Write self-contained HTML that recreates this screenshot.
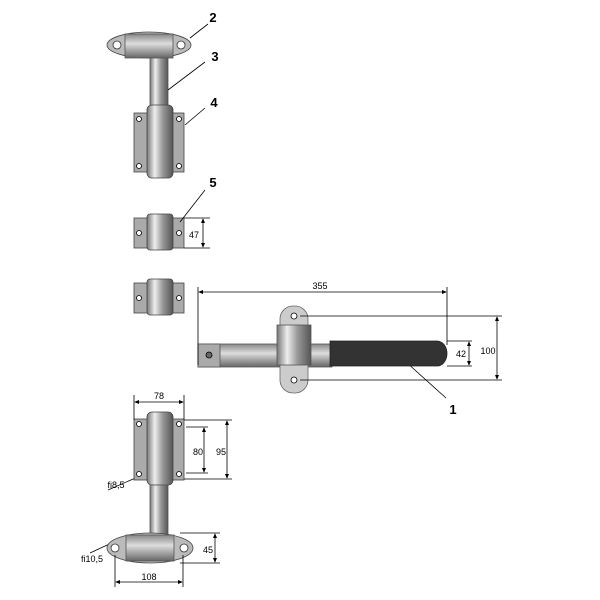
<!DOCTYPE html>
<html><head><meta charset="utf-8"><style>html,body{margin:0;padding:0;background:#fff}svg{display:block}</style></head><body>
<svg width="600" height="600" viewBox="0 0 600 600" xmlns="http://www.w3.org/2000/svg" font-family="Liberation Sans, sans-serif">
<defs>
<linearGradient id="m" x1="0" x2="1" y1="0" y2="0">
<stop offset="0" stop-color="#777"/><stop offset="0.3" stop-color="#eee"/><stop offset="0.6" stop-color="#999"/><stop offset="1" stop-color="#555"/></linearGradient>
<linearGradient id="mv" x1="0" x2="0" y1="0" y2="1">
<stop offset="0" stop-color="#888"/><stop offset="0.4" stop-color="#ddd"/><stop offset="1" stop-color="#666"/></linearGradient>
<marker id="a" markerWidth="6" markerHeight="6" refX="5" refY="3" orient="auto-start-reverse"><path d="M0,0.5 L6,3 L0,5.5z" fill="#000"/></marker>
</defs>
<g stroke="#000" stroke-width="0.8" fill="none">
<!-- top assembly -->
<ellipse cx="149" cy="45" rx="42" ry="13" fill="#bbb" stroke="#444"/>
<rect x="125" y="34" width="48" height="24" fill="url(#mv)" stroke="#555"/>
<circle cx="117" cy="45" r="4" fill="#fff" stroke="#333"/><circle cx="181" cy="45" r="4" fill="#fff" stroke="#333"/>
<rect x="150" y="58" width="18" height="50" fill="url(#m)" stroke="#555"/>
<rect x="134" y="113" width="50" height="59" fill="#aaa" stroke="#444"/>
<rect x="147" y="105" width="26" height="73" rx="5" fill="url(#m)" stroke="#444"/>
<circle cx="139" cy="119" r="2.5" fill="#fff"/><circle cx="179" cy="119" r="2.5" fill="#fff"/><circle cx="139" cy="166" r="2.5" fill="#fff"/><circle cx="179" cy="166" r="2.5" fill="#fff"/>
<!-- part 5 -->
<rect x="134" y="218" width="50" height="30" fill="#aaa" stroke="#444"/>
<rect x="147" y="214" width="26" height="36" rx="3" fill="url(#m)" stroke="#444"/>
<circle cx="139" cy="233" r="2.5" fill="#fff"/><circle cx="179" cy="233" r="2.5" fill="#fff"/>
<rect x="134" y="283" width="50" height="30" fill="#aaa" stroke="#444"/>
<rect x="147" y="279" width="26" height="36" rx="3" fill="url(#m)" stroke="#444"/>
<circle cx="139" cy="298" r="2.5" fill="#fff"/><circle cx="179" cy="298" r="2.5" fill="#fff"/>
<!-- leaders -->
<path d="M208,24 L190,38 M205,62 L168,90 M205,108 L185,125 M205,190 L180,222 M406,362 L446,398 M108,490 L140,476 M90,553 L118,540"/>
<!-- 47 -->
<path d="M184,218 H210 M184,248 H210"/>
<path d="M203,219 V247" marker-start="url(#a)" marker-end="url(#a)"/>
<!-- handle -->
<rect x="198" y="344" width="134" height="23" fill="url(#mv)" stroke="#555"/>
<rect x="198" y="344" width="22" height="23" fill="#aaa" stroke="#555"/>
<circle cx="209" cy="355" r="3" fill="#666"/>
<path d="M330,341 H437 A10,12.5 0 0 1 437,366 H330 Z" fill="#333" stroke="#222"/>
<rect x="280" y="306" width="28" height="87" rx="13" fill="#ccc" stroke="#666"/>
<rect x="277" y="325" width="34" height="40" fill="url(#m)" stroke="#555"/>
<circle cx="294" cy="316" r="3" fill="#fff"/><circle cx="294" cy="380" r="3" fill="#fff"/>
<!-- 355 -->
<path d="M198,287 V365 M447,287 V345"/>
<path d="M199,292 H446" marker-start="url(#a)" marker-end="url(#a)"/>
<!-- 100 -->
<path d="M300,316 H502 M300,380 H502"/>
<path d="M497,317 V379" marker-start="url(#a)" marker-end="url(#a)"/>
<!-- 42 -->
<path d="M447,341 H472 M447,366 H472"/>
<path d="M469,342 V365" marker-start="url(#a)" marker-end="url(#a)"/>
<!-- bottom assembly -->
<rect x="134" y="419" width="50" height="61" fill="#aaa" stroke="#444"/>
<rect x="147" y="412" width="26" height="73" rx="5" fill="url(#m)" stroke="#444"/>
<circle cx="139" cy="424" r="2.5" fill="#fff"/><circle cx="179" cy="424" r="2.5" fill="#fff"/><circle cx="139" cy="474" r="2.5" fill="#fff"/><circle cx="179" cy="474" r="2.5" fill="#fff"/>
<rect x="150" y="485" width="18" height="52" fill="url(#m)" stroke="#555"/>
<ellipse cx="150" cy="548" rx="43" ry="15" fill="#bbb" stroke="#444"/>
<rect x="126" y="535" width="48" height="26" fill="url(#mv)" stroke="#555"/>
<circle cx="115" cy="548" r="4" fill="#fff" stroke="#333"/><circle cx="184" cy="548" r="4" fill="#fff" stroke="#333"/>
<!-- 78 -->
<path d="M134,395 V420 M184,395 V420"/>
<path d="M135,402 H183" marker-start="url(#a)" marker-end="url(#a)"/>
<!-- 80/95 -->
<path d="M184,420 H232 M184,479 H232 M186,427 H208 M186,473 H208"/>
<path d="M204,428 V472" marker-start="url(#a)" marker-end="url(#a)"/>
<path d="M227,421 V478" marker-start="url(#a)" marker-end="url(#a)"/>
<!-- 45 -->
<path d="M180,533 H220 M180,563 H220"/>
<path d="M215,534 V562" marker-start="url(#a)" marker-end="url(#a)"/>
<!-- 108 -->
<path d="M115,555 V587 M183,555 V587"/>
<path d="M116,582 H182" marker-start="url(#a)" marker-end="url(#a)"/>
</g>
<g font-size="9" fill="#000" text-anchor="middle">
<text x="194" y="238">47</text>
<text x="320" y="289">355</text>
<text x="461" y="357">42</text>
<text x="488" y="354">100</text>
<text x="159" y="399">78</text>
<text x="198" y="455">80</text>
<text x="221" y="455">95</text>
<text x="208" y="553">45</text>
<text x="149" y="580">108</text>
<text x="116" y="488">fi8,5</text>
<text x="92" y="562">fi10,5</text>
</g>
<g font-size="13" font-weight="bold" fill="#000" text-anchor="middle">
<text x="213" y="22">2</text>
<text x="215" y="61">3</text>
<text x="214" y="107">4</text>
<text x="213" y="187">5</text>
<text x="453" y="414">1</text>
</g>
</svg>
</body></html>
